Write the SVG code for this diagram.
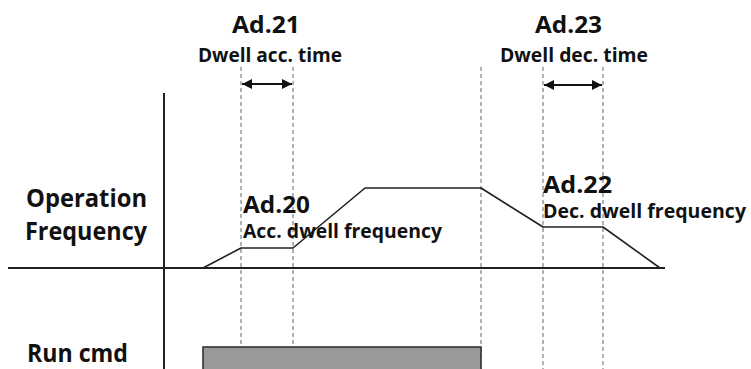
<svg xmlns="http://www.w3.org/2000/svg" width="751" height="369" viewBox="0 0 751 369">
<defs>
<style>
.t{font-family:"Open Sans","Noto Sans",sans-serif;fill:#111;font-weight:700;}
.big{font-size:24px;}
.lab{font-size:25px;}
.sm{font-size:20px;}
.axis{stroke:#222;stroke-width:2;fill:none;}
.prof{stroke:#222;stroke-width:1.6;fill:none;stroke-linejoin:round;}
.dot{stroke:#999;stroke-width:1.5;stroke-dasharray:4 3;fill:none;}
.arr{stroke:#111;stroke-width:2;fill:none;marker-start:url(#ah);marker-end:url(#ah);}
</style>
<marker id="ah" viewBox="0 0 10 10" refX="10" refY="5" markerWidth="5.5" markerHeight="5" orient="auto-start-reverse" markerUnits="strokeWidth">
<path d="M0,0 L10,5 L0,10 Z" fill="#111"/>
</marker>
</defs>
<rect width="751" height="369" fill="#fff"/>
<g id="connectors">
<line class="dot" x1="241" y1="67" x2="241" y2="369"/>
<line class="dot" x1="293" y1="67" x2="293" y2="369"/>
<line class="dot" x1="481" y1="67" x2="481" y2="369"/>
<line class="dot" x1="543" y1="67" x2="543" y2="369"/>
<line class="dot" x1="603" y1="67" x2="603" y2="369"/>
<line class="arr" x1="242" y1="84" x2="292" y2="84"/>
<line class="arr" x1="544" y1="85" x2="602" y2="85"/>
</g>
<g id="axes">
<line class="axis" x1="164" y1="93" x2="164" y2="369"/>
<line class="axis" x1="8" y1="268" x2="665" y2="268"/>
</g>
<g id="frequency-profile">
<polyline class="prof" points="203,268 241,248 293,248 365,188 481,188 543,227 603,227 660,268"/>
</g>
<g id="run-cmd-bar">
<rect x="203" y="347" width="278" height="30" fill="#999" stroke="#333" stroke-width="1.6"/>
</g>
<g id="label-ad21">
<text class="t big" x="232" y="33" textLength="68" lengthAdjust="spacingAndGlyphs">Ad.21</text>
<text class="t sm" x="198" y="62" textLength="144" lengthAdjust="spacingAndGlyphs">Dwell acc. time</text>
</g>
<g id="label-ad23">
<text class="t big" x="535" y="33" textLength="67" lengthAdjust="spacingAndGlyphs">Ad.23</text>
<text class="t sm" x="500" y="62" textLength="148" lengthAdjust="spacingAndGlyphs">Dwell dec. time</text>
</g>
<g id="label-ad20">
<text class="t big" x="243" y="213" textLength="67" lengthAdjust="spacingAndGlyphs">Ad.20</text>
<text class="t sm" x="243" y="238" textLength="199" lengthAdjust="spacingAndGlyphs">Acc. dwell frequency</text>
</g>
<g id="label-ad22">
<text class="t big" x="543" y="193" textLength="69" lengthAdjust="spacingAndGlyphs">Ad.22</text>
<text class="t sm" x="543" y="218" textLength="203" lengthAdjust="spacingAndGlyphs">Dec. dwell frequency</text>
</g>
<g id="label-operation-frequency">
<text class="t lab" x="26" y="207" textLength="121" lengthAdjust="spacingAndGlyphs">Operation</text>
<text class="t lab" x="25" y="240" textLength="122" lengthAdjust="spacingAndGlyphs">Frequency</text>
</g>
<g id="label-run-cmd">
<text class="t lab" x="27" y="362" textLength="101" lengthAdjust="spacingAndGlyphs">Run cmd</text>
</g>
</svg>
